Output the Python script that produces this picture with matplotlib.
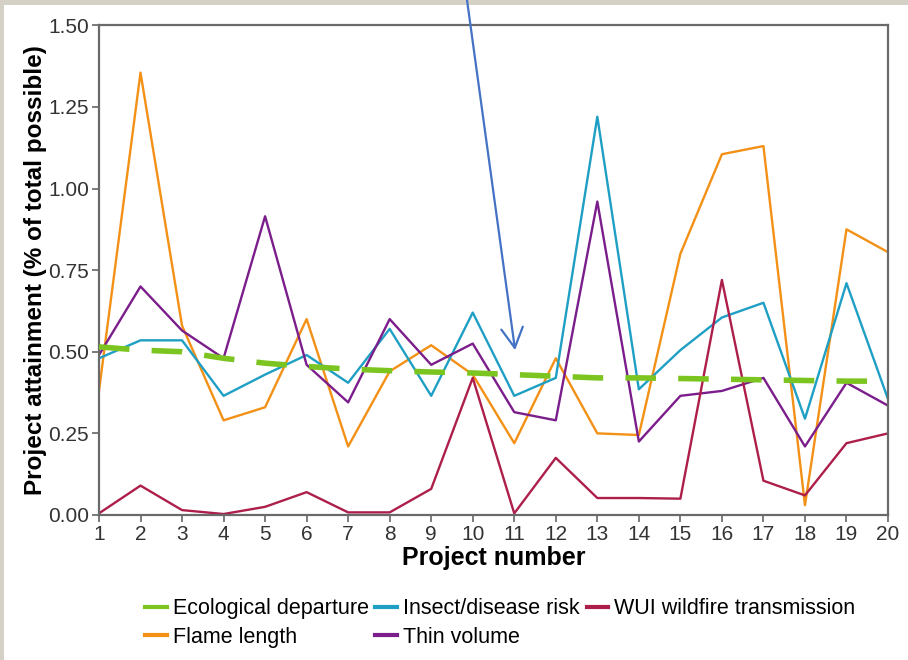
import numpy as np
import matplotlib.pyplot as plt
from matplotlib.patches import Rectangle

plt.rcParams['font.family'] = ['Liberation Sans', 'DejaVu Sans']

# project numbers
projects = np.arange(1, 21)

# values (% of total possible)
ecological = [0.515, 0.505, 0.50, 0.48, 0.465, 0.455, 0.447, 0.442, 0.438, 0.435,
              0.43, 0.425, 0.42, 0.42, 0.418, 0.416, 0.414, 0.412, 0.41, 0.41]
flame = [0.38, 1.355, 0.58, 0.29, 0.33, 0.60, 0.21, 0.44, 0.52, 0.43,
         0.22, 0.48, 0.25, 0.245, 0.80, 1.105, 1.13, 0.03, 0.875, 0.805]
insect = [0.48, 0.535, 0.535, 0.365, 0.43, 0.49, 0.405, 0.57, 0.365, 0.62,
          0.365, 0.42, 1.22, 0.385, 0.505, 0.605, 0.65, 0.295, 0.71, 0.355]
wui = [0.005, 0.09, 0.015, 0.003, 0.025, 0.07, 0.008, 0.008, 0.08, 0.42,
       0.005, 0.175, 0.052, 0.052, 0.05, 0.72, 0.105, 0.06, 0.22, 0.25]
thin = [0.49, 0.70, 0.565, 0.48, 0.915, 0.46, 0.345, 0.60, 0.46, 0.525,
        0.315, 0.29, 0.96, 0.225, 0.365, 0.38, 0.42, 0.21, 0.405, 0.335]

fig = plt.figure(figsize=(9.08, 6.6), dpi=100)
fig.patch.set_facecolor('#d6d1c6')
# white slide panel behind everything
panel = Rectangle((4 / 908, 0), 1, 1 - 5 / 660, transform=fig.transFigure,
                  facecolor='white', edgecolor='none', zorder=-10)
fig.add_artist(panel)

ax = fig.add_axes([0.109, 0.2197, 0.869, 0.742])
ax.set_facecolor('white')

l_eco, = ax.plot(projects, ecological, color='#7cc520', lw=4, ls=(0, (5.5, 4)),
                 label='Ecological departure', zorder=3)
l_flame, = ax.plot(projects, flame, color='#f39016', lw=1.7, label='Flame length')
l_insect, = ax.plot(projects, insect, color='#1f9fc4', lw=1.7, label='Insect/disease risk')
l_thin, = ax.plot(projects, thin, color='#7b1d8a', lw=1.7, label='Thin volume')
l_wui, = ax.plot(projects, wui, color='#ad1f4a', lw=1.7, label='WUI wildfire transmission')

ax.set_xlim(1, 20)
ax.set_ylim(0, 1.5)
ax.set_xticks(projects)
ax.set_yticks([0, 0.25, 0.5, 0.75, 1.0, 1.25, 1.5])
ax.set_yticklabels(['0.00', '0.25', '0.50', '0.75', '1.00', '1.25', '1.50'])
ax.tick_params(colors='#666666', labelcolor='#333333', labelsize=15, length=5, width=1.2, pad=2)
for s in ax.spines.values():
    s.set_color('#6a6a6a')
    s.set_linewidth(1.6)

ax.set_xlabel('Project number', fontsize=18, fontweight='bold', labelpad=2)
ax.set_ylabel('Project attainment (% of total possible)', fontsize=17.5, fontweight='bold', labelpad=1)

handles = [l_eco, l_flame, l_insect, l_thin, l_wui]
leg = fig.legend(handles, [h.get_label() for h in handles], ncol=3, loc='center',
                 bbox_to_anchor=(0.551, 0.056), frameon=False, handlelength=1.0,
                 handletextpad=0.3, columnspacing=0.3, labelspacing=0.35,
                 prop={'size': 15.5})
for h in leg.legend_handles:
    h.set_linestyle('-')
    h.set_linewidth(3)

# arrow annotation pointing at project 11
ax.annotate('', xy=(11.02, 0.505), xytext=(467 / 908, 1.0), xycoords='data',
            textcoords='figure fraction',
            arrowprops=dict(arrowstyle='->,head_length=1.1,head_width=0.6',
                            color='#4472c4', lw=1.6, shrinkA=0, shrinkB=0,
                            mutation_scale=13),
            annotation_clip=False)

fig.savefig('out.png', dpi=100, facecolor=fig.get_facecolor())
